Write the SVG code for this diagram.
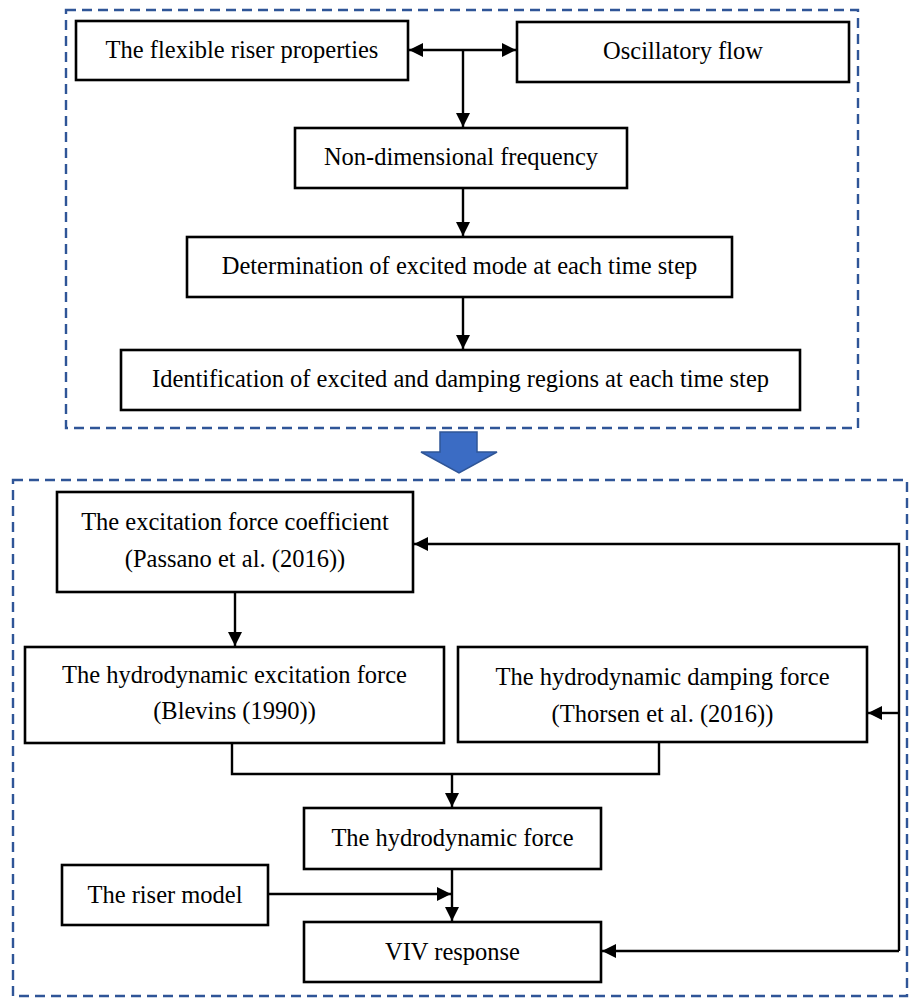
<svg xmlns="http://www.w3.org/2000/svg" width="909" height="998" viewBox="0 0 909 998">
<defs>
<style>
.box{fill:#fff;stroke:#000;stroke-width:2.6}
.dash{fill:none;stroke:#2F5597;stroke-width:2.4;stroke-dasharray:10 6}
.con{fill:none;stroke:#000;stroke-width:2.4}
.t{font-family:'Liberation Serif','Times New Roman','DejaVu Serif',serif;font-size:24.5px;fill:#000;text-anchor:middle}
</style>
<marker id="ah" viewBox="0 0 14 14" refX="14" refY="7" markerWidth="14" markerHeight="14" markerUnits="userSpaceOnUse" orient="auto-start-reverse">
<path d="M0,0 L14,7 L0,14 Z" fill="#000"/>
</marker>
</defs>
<rect width="909" height="998" fill="#fff"/>
<rect class="dash" x="66" y="10" width="792" height="418"/>
<rect class="dash" x="13" y="480" width="894" height="516"/>
<path id="bigarrow" d="M440,432 L477,432 L477,452 L497,452 L459,473 L421,452 L440,452 Z" fill="#3B6CC4" stroke="#2F5597" stroke-width="1.5"/>
<g id="connectors">
<line class="con" x1="409" y1="50" x2="516" y2="50" marker-start="url(#ah)" marker-end="url(#ah)"/>
<line class="con" x1="463" y1="50" x2="463" y2="127" marker-end="url(#ah)"/>
<line class="con" x1="463" y1="188" x2="463" y2="236" marker-end="url(#ah)"/>
<line class="con" x1="463" y1="297" x2="463" y2="349" marker-end="url(#ah)"/>
<line class="con" x1="235" y1="592" x2="235" y2="646" marker-end="url(#ah)"/>
<polyline class="con" points="232,743 232,774 659,774 659,742"/>
<line class="con" x1="452" y1="774" x2="452" y2="807" marker-end="url(#ah)"/>
<line class="con" x1="452" y1="869" x2="452" y2="921" marker-end="url(#ah)"/>
<line class="con" x1="268" y1="894" x2="451" y2="894" marker-end="url(#ah)"/>
<polyline class="con" points="899,951 899,544 414,544" marker-end="url(#ah)"/>
<line class="con" x1="899" y1="713" x2="868" y2="713" marker-end="url(#ah)"/>
<line class="con" x1="899" y1="951" x2="602" y2="951" marker-end="url(#ah)"/>
</g>
<g class="t" font-family="Liberation Serif, serif">
<g id="n1"><rect class="box" x="76" y="21" width="332" height="59"/><text x="242" y="58">The flexible riser properties</text></g>
<g id="n2"><rect class="box" x="517" y="22" width="332" height="60"/><text x="683" y="59">Oscillatory flow</text></g>
<g id="n3"><rect class="box" x="295" y="128" width="332" height="60"/><text x="461" y="165">Non-dimensional frequency</text></g>
<g id="n4"><rect class="box" x="187" y="237" width="545" height="60"/><text x="459.5" y="274">Determination of excited mode at each time step</text></g>
<g id="n5"><rect class="box" x="121" y="350" width="679" height="60"/><text x="460.5" y="387">Identification of excited and damping regions at each time step</text></g>
<g id="n6"><rect class="box" x="57" y="492" width="356" height="100"/><text x="235" y="530">The excitation force coefficient</text><text x="235" y="567">(Passano et al. (2016))</text></g>
<g id="n7"><rect class="box" x="25" y="647" width="419" height="96"/><text x="234.5" y="683">The hydrodynamic excitation force</text><text x="234.5" y="719">(Blevins (1990))</text></g>
<g id="n8"><rect class="box" x="458" y="647" width="409" height="95"/><text x="662.5" y="685">The hydrodynamic damping force</text><text x="662.5" y="722">(Thorsen et al. (2016))</text></g>
<g id="n9"><rect class="box" x="304" y="808" width="297" height="61"/><text x="452.5" y="846">The hydrodynamic force</text></g>
<g id="n10"><rect class="box" x="62" y="865" width="206" height="60"/><text x="165" y="903">The riser model</text></g>
<g id="n11"><rect class="box" x="304" y="922" width="297" height="60"/><text x="452.5" y="960">VIV response</text></g>
</g>
</svg>
